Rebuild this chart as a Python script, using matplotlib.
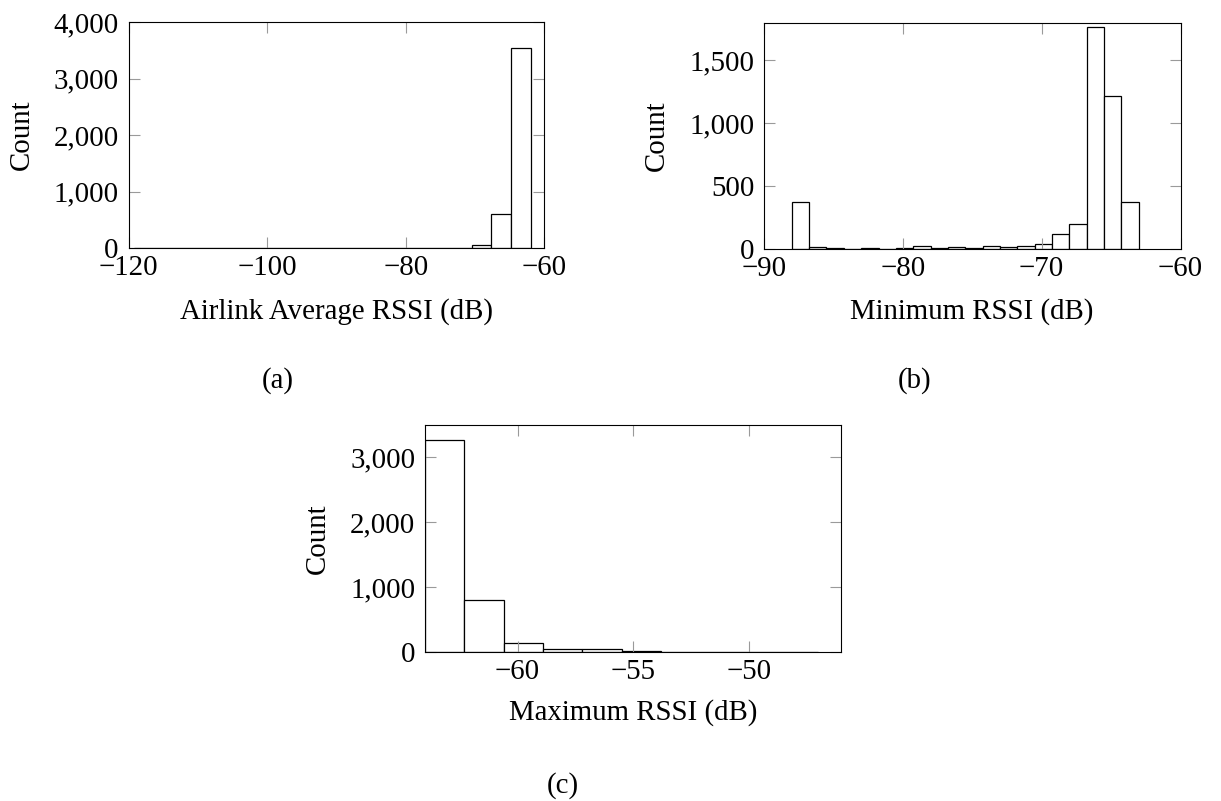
import matplotlib
matplotlib.use("Agg")
import matplotlib.pyplot as plt
from matplotlib.ticker import FuncFormatter, FixedLocator
import numpy as np

# ---- histogram data (counts per bin, equal-width bins) ----
avg_bin_start = -119.2
avg_bin_width = 2.865
avg_counts = [0, 0, 0, 0, 3, 0, 0, 0, 0, 0, 0, 3, 6, 0, 3, 8, 8, 53, 600, 3538]

min_bin_start = -88.0
min_bin_width = 1.25
min_counts = [379, 16, 8, 5, 8, 2, 13, 29, 8, 21,
              13, 29, 21, 29, 42, 125, 199, 1762, 1214, 374]

max_bin_start = -64.0
max_bin_width = 1.7
max_counts = [3271, 811, 149, 46, 46, 15, 2, 8, 1, 2]

avg_xticks = [-120, -100, -80, -60]
avg_yticks = [0, 1000, 2000, 3000, 4000]
min_xticks = [-90, -80, -70, -60]
min_yticks = [0, 500, 1000, 1500]
max_xticks = [-60, -55, -50]
max_yticks = [0, 1000, 2000, 3000]

avg_label = "Airlink Average RSSI (dB)"
min_label = "Minimum RSSI (dB)"
max_label = "Maximum RSSI (dB)"

# ---- style ----
plt.rcParams["font.family"] = ["Liberation Serif", "DejaVu Serif"]
FS = 20.8
W, H = 1221, 801
fig = plt.figure(figsize=(W / 100, H / 100), dpi=100)


def px_axes(x0, y0, x1, y1):
    return fig.add_axes([x0 / W, 1 - y1 / H, (x1 - x0) / W, (y1 - y0) / H])


def fmt(v, pos):
    return f"{v:,.0f}".replace("-", "\u2212")


def hist_panel(ax, start, width, counts, xlim, ylim, xticks, yticks):
    counts = np.asarray(counts, dtype=float)
    lefts = start + width * np.arange(len(counts))
    ax.bar(lefts, counts, width=width, align="edge",
           facecolor="white", edgecolor="black", linewidth=0.9, zorder=1)
    ax.set_xlim(*xlim)
    ax.set_ylim(*ylim)
    ax.xaxis.set_major_locator(FixedLocator(xticks))
    ax.yaxis.set_major_locator(FixedLocator(yticks))
    ax.xaxis.set_major_formatter(FuncFormatter(fmt))
    ax.yaxis.set_major_formatter(FuncFormatter(fmt))
    ax.tick_params(axis="both", direction="in", length=8, width=0.8,
                   color="#9a9a9a", labelsize=FS, top=True, right=True)
    ax.tick_params(axis="x", pad=4.5)
    ax.tick_params(axis="y", pad=7)
    for s in ax.spines.values():
        s.set_linewidth(0.8)
        s.set_color("black")


axA = px_axes(128.5, 22, 544.3, 248.3)
hist_panel(axA, avg_bin_start, avg_bin_width, avg_counts,
           (-120, -60), (0, 4000), avg_xticks, avg_yticks)

axB = px_axes(764, 22.7, 1180.5, 249.3)
hist_panel(axB, min_bin_start, min_bin_width, min_counts,
           (-90, -60), (0, 1800), min_xticks, min_yticks)

axC = px_axes(425, 425, 841.3, 652.3)
hist_panel(axC, max_bin_start, max_bin_width, max_counts,
           (-64, -46), (0, 3500), max_xticks, max_yticks)


def ftext(x, y, s, **kw):
    fig.text(x / W, 1 - y / H, s, fontsize=FS, ha="center", va="center", **kw)


# axis titles
ftext(22, 135, "Count", rotation=90)
ftext(657, 136, "Count", rotation=90)
ftext(318, 539, "Count", rotation=90)
ftext(336.4, 312, avg_label)
ftext(972, 312, min_label)
ftext(633, 713, max_label)

# sub-figure captions
ftext(278, 381, "(a)")
ftext(915, 381, "(b)")
ftext(563, 786, "(c)")

fig.savefig("out.png", dpi=100)
